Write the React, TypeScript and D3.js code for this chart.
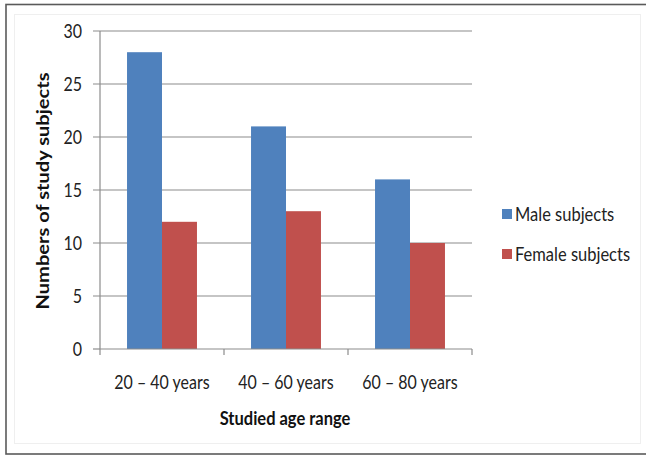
import React, { useEffect, useRef } from "react";
import * as d3 from "d3";

const categories = ["20 – 40 years", "40 – 60 years", "60 – 80 years"];
const seriesNames = ["Male subjects", "Female subjects"];
const maleValues = [28, 21, 16];
const femaleValues = [12, 13, 10];
const yTicks = [0, 5, 10, 15, 20, 25, 30];
const colors = ["#4F81BD", "#C0504D"];

const W = 646;
const H = 456;
const FONT = "Lato, 'Open Sans', sans-serif";
const STRETCH = 1.18;

export default function App() {
  const ref = useRef<SVGSVGElement | null>(null);

  useEffect(() => {
    const svg = d3.select(ref.current);
    svg.selectAll("*").remove();

    const left = 100;
    const right = 472;
    const top = 31;
    const bottom = 349;

    // outer frame and faint chart area
    svg.append("rect").attr("x", 6).attr("y", 4.5).attr("width", 646).attr("height", 449.5)
      .attr("fill", "#fff").attr("stroke", "#5a5a5a").attr("stroke-width", 1.6);
    svg.append("rect").attr("x", 14.5).attr("y", 14.5).attr("width", 626).attr("height", 429)
      .attr("fill", "none").attr("stroke", "#efefef").attr("stroke-width", 1);

    const y = d3.scaleLinear().domain([0, 30]).range([bottom, top]);
    const x0 = d3.scaleBand<string>().domain(categories).range([left, right]).padding(0);
    const bw = x0.bandwidth();
    const x1 = d3.scaleBand<string>().domain(seriesNames).range([bw * 0.218, bw * 0.782]).padding(0);

    const g = svg.append("g");

    // text drawn slightly taller than wide
    const label = (x: number, yy: number, txt: string, size: number, anchor: string, bold = false, dy = "0") =>
      g.append("g").attr("transform", `translate(${x},${yy}) scale(1,${STRETCH})`)
        .append("text").attr("dy", dy).attr("text-anchor", anchor)
        .attr("font-family", FONT).attr("font-size", size)
        .attr("font-weight", bold ? "bold" : "normal")
        .attr("fill", bold ? "#111" : "#222").text(txt);

    // gridlines and y ticks
    yTicks.forEach((t) => {
      g.append("line").attr("x1", left - 7).attr("x2", t > 0 ? right : left)
        .attr("y1", y(t)).attr("y2", y(t))
        .attr("stroke", "#8c8c8c").attr("stroke-width", 1.2);
      label(82, y(t), String(t), 16, "end", false, "0.36em");
    });

    const data = categories.map((c, i) => ({ c, vals: [maleValues[i], femaleValues[i]] }));

    data.forEach((d) => {
      d.vals.forEach((v, j) => {
        g.append("rect")
          .attr("x", (x0(d.c) ?? 0) + (x1(seriesNames[j]) ?? 0))
          .attr("y", y(v))
          .attr("width", x1.bandwidth())
          .attr("height", y(0) - y(v))
          .attr("fill", colors[j]);
      });
    });

    // axis lines and category ticks
    g.append("line").attr("x1", left).attr("x2", left).attr("y1", top).attr("y2", bottom)
      .attr("stroke", "#8c8c8c").attr("stroke-width", 1.2);
    g.append("line").attr("x1", left).attr("x2", right).attr("y1", bottom).attr("y2", bottom)
      .attr("stroke", "#8c8c8c").attr("stroke-width", 1.2);
    [...categories.map((c) => x0(c) ?? 0), right].forEach((xv) => {
      g.append("line").attr("x1", xv).attr("x2", xv).attr("y1", bottom).attr("y2", bottom + 6)
        .attr("stroke", "#8c8c8c").attr("stroke-width", 1.2);
    });

    categories.forEach((c) => {
      label((x0(c) ?? 0) + bw / 2, 382, c, 16, "middle", false, "0.36em");
    });

    label(285, 425, "Studied age range", 16.5, "middle", true);

    // y-axis title, rotated
    g.append("text").attr("transform", "translate(49,191) rotate(-90)")
      .attr("text-anchor", "middle").attr("font-family", FONT).attr("font-size", 16.5)
      .attr("font-weight", "bold").attr("fill", "#111")
      .attr("textLength", 237).attr("lengthAdjust", "spacingAndGlyphs")
      .text("Numbers of study subjects");

    // legend
    seriesNames.forEach((s, i) => {
      const ly = 214 + i * 40;
      g.append("rect").attr("x", 502).attr("y", ly - 5).attr("width", 10).attr("height", 10)
        .attr("fill", colors[i]);
      label(515, ly, s, 16.5, "start", false, "0.36em");
    });
  }, []);

  return (
    <svg ref={ref} width={W} height={H}
      style={{ position: "absolute", left: 0, top: 0, display: "block", background: "#fff" }} />
  );
}
